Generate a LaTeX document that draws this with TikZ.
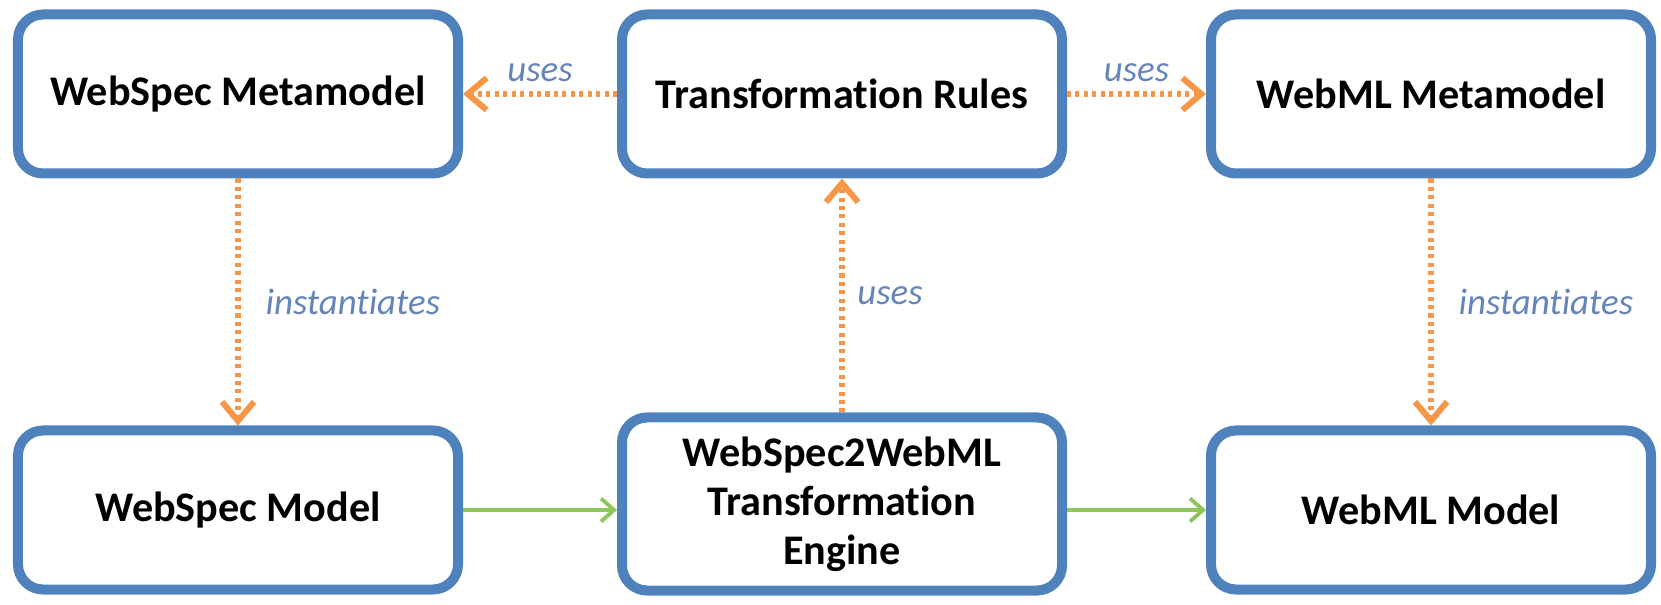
\documentclass[tikz,border=0pt]{standalone}
\usepackage{fontspec}
\setmainfont{Carlito}[Ligatures=NoCommon]
\usetikzlibrary{arrows.meta,positioning}
\definecolor{Frame}{HTML}{4F81BD}
\definecolor{Peach}{HTML}{F79646}
\definecolor{Leaf}{HTML}{8DC65A}
\definecolor{Slate}{HTML}{6585BA}

\begin{document}
\begin{tikzpicture}[
  node distance=4.94cm and 3.08cm,
  model/.style={draw=Frame,line width=0.2cm,rounded corners=0.5cm,fill=white,align=center,
    minimum width=8.8cm,minimum height=3.18cm,font=\fontsize{24}{28}\selectfont\bfseries},
  uses/.style={-{Straight Barb[length=3.8mm,width=6.4mm]},draw=Peach,line width=3.4pt,
    dash pattern=on 2.3pt off 2.5pt},
  flow/.style={-{Straight Barb[length=2.6mm,width=4.6mm]},draw=Leaf,line width=2.2pt},
  tag/.style={text=Slate,font=\fontsize{21}{25}\selectfont\itshape,inner sep=0pt}
]
\useasboundingbox (-4.76,1.88) rectangle (28.46,-10.22);
\node[model] (wsmeta) {WebSpec Metamodel};
\node[model,right=3.08cm of wsmeta] (rules) {Transformation Rules};
\node[model,right=2.78cm of rules] (wmlmeta) {WebML Metamodel};
\node[model,below=of wsmeta] (wsmodel) {WebSpec Model};
\node[model,below=4.68cm of rules,minimum height=3.46cm] (engine) {WebSpec2WebML\\Transformation\\Engine};
\node[model,below=of wmlmeta] (wmlmodel) {WebML Model};
\draw[uses] (rules) -- node[tag,above=5pt] {uses} (wsmeta);
\draw[uses] (rules) -- node[tag,above=5pt] {uses} (wmlmeta);
\draw[uses] (engine) -- node[tag,right=7pt] {uses} (rules);
\draw[uses] (wsmeta) -- node[tag,right=14pt] {instantiates} (wsmodel);
\draw[uses] (wmlmeta) -- node[tag,right=14pt] {instantiates} (wmlmodel);
\draw[flow] (wsmodel.east) -- (wsmodel.east -| engine.west);
\draw[flow] (engine.east |- wmlmodel.west) -- (wmlmodel.west);
\end{tikzpicture}
\end{document}
